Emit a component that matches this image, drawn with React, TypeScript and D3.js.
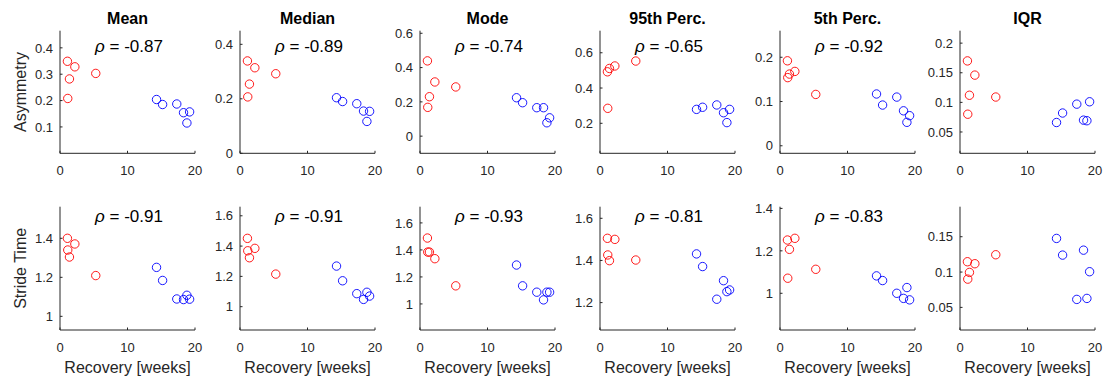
import React from 'react';
import * as d3 from 'd3';

// Recovery time (weeks) of each subject, per group
const redRecovery = [1.1, 1.15, 1.4, 2.2, 5.3];
const blueRecovery = [14.3, 15.2, 17.3, 18.3, 18.8, 19.2];

const statTitles = ['Mean', 'Median', 'Mode', '95th Perc.', '5th Perc.', 'IQR'];
const rowLabels = ['Asymmetry', 'Stride Time'];
const xTicks = [0, 10, 20];

// Asymmetry statistics (one row per statistic)
const asymmetryRed = [
  [0.349, 0.208, 0.282, 0.328, 0.303],
  [0.339, 0.207, 0.254, 0.314, 0.292],
  [0.439, 0.168, 0.230, 0.316, 0.287],
  [0.492, 0.285, 0.511, 0.525, 0.553],
  [0.192, 0.154, 0.162, 0.168, 0.116],
  [0.170, 0.080, 0.112, 0.146, 0.109],
];
const asymmetryBlue = [
  [0.204, 0.185, 0.187, 0.154, 0.115, 0.157],
  [0.204, 0.190, 0.182, 0.155, 0.117, 0.154],
  [0.224, 0.195, 0.166, 0.166, 0.078, 0.107],
  [0.279, 0.291, 0.304, 0.260, 0.204, 0.279],
  [0.117, 0.092, 0.110, 0.079, 0.053, 0.068],
  [0.066, 0.082, 0.097, 0.070, 0.069, 0.101],
];

// Stride time statistics (s)
const strideRed = [
  [1.400, 1.340, 1.304, 1.371, 1.209],
  [1.451, 1.369, 1.323, 1.385, 1.215],
  [1.488, 1.384, 1.384, 1.335, 1.134],
  [1.505, 1.426, 1.399, 1.500, 1.402],
  [1.251, 1.071, 1.207, 1.259, 1.113],
  [0.1146, 0.090, 0.0995, 0.1118, 0.1245],
];
const strideBlue = [
  [1.251, 1.184, 1.089, 1.086, 1.108, 1.088],
  [1.268, 1.171, 1.086, 1.048, 1.095, 1.070],
  [1.288, 1.134, 1.087, 1.030, 1.087, 1.087],
  [1.431, 1.371, 1.216, 1.304, 1.252, 1.260],
  [1.082, 1.060, 1.000, 0.976, 1.027, 0.969],
  [0.1476, 0.124, 0.0613, 0.131, 0.0627, 0.1005],
];

// Correlation coefficients (none shown for IQR)
const rhoAsymmetry = ['-0.87', '-0.89', '-0.74', '-0.65', '-0.92', null];
const rhoStride = ['-0.91', '-0.91', '-0.93', '-0.81', '-0.83', null];

// Axis limits and ticks
const asymmetryLimits = [
  [0.0, 0.465], [0, 0.45], [-0.1, 0.615], [0.03, 0.725], [-0.017, 0.26], [0.014, 0.221],
];
const strideLimits = [
  [0.93, 1.562], [0.846, 1.66], [0.807, 1.72], [1.07, 1.655], [0.827, 1.408], [0.018, 0.1925],
];
const asymmetryTicks = [
  [0.1, 0.2, 0.3, 0.4], [0, 0.2, 0.4], [0, 0.2, 0.4, 0.6], [0.2, 0.4, 0.6], [0, 0.1, 0.2], [0.05, 0.1, 0.15, 0.2],
];
const strideTicks = [
  [1, 1.2, 1.4], [1, 1.2, 1.4, 1.6], [1, 1.2, 1.4, 1.6], [1.2, 1.4, 1.6], [1, 1.2, 1.4], [0.05, 0.1, 0.15],
];

const W = 1109;
const H = 379;
const FONT = '"Liberation Sans", Arial, Helvetica, sans-serif';
const AX = '#262626';

const panelLeft = (i: number) => 60 + i * 180;
const panelWidth = 135;
const rows = [
  { top: 30.7, bottom: 153.3, rhoY: 51.5 },
  { top: 206.7, bottom: 330, rhoY: 222 },
];

function Panel({ col, row, red, blue, limits, ticks, rho }: any) {
  const x0 = panelLeft(col);
  const { top, bottom, rhoY } = rows[row];
  const x = d3.scaleLinear().domain([0, 20]).range([x0, x0 + panelWidth]);
  const y = d3.scaleLinear().domain(limits).range([bottom, top]);
  const cx = x0 + panelWidth / 2;
  const fmt = (v: number) => String(v);
  return (
    <g>
      {/* axes */}
      <line x1={x0} x2={x0} y1={top} y2={bottom} stroke={AX} strokeWidth={1} />
      <line x1={x0} x2={x0 + panelWidth} y1={bottom} y2={bottom} stroke={AX} strokeWidth={1} />
      {xTicks.map((t) => (
        <g key={'x' + t}>
          <line x1={x(t)} x2={x(t)} y1={bottom} y2={bottom - 2.5} stroke={AX} />
          <text x={x(t)} y={bottom + 21.7} textAnchor="middle" fontSize={13} fill={AX} fontFamily={FONT}>
            {fmt(t)}
          </text>
        </g>
      ))}
      {ticks.map((t: number) => (
        <g key={'y' + t}>
          <line x1={x0} x2={x0 + 2.5} y1={y(t)} y2={y(t)} stroke={AX} />
          <text x={x0 - 7} y={y(t)} dy="0.36em" textAnchor="end" fontSize={13} fill={AX} fontFamily={FONT}>
            {fmt(t)}
          </text>
        </g>
      ))}
      {/* points */}
      {red.map((v: number, i: number) => (
        <circle key={'r' + i} cx={x(redRecovery[i])} cy={y(v)} r={4.2} fill="none" stroke="#ff0000" strokeWidth={0.9} />
      ))}
      {blue.map((v: number, i: number) => (
        <circle key={'b' + i} cx={x(blueRecovery[i])} cy={y(v)} r={4.2} fill="none" stroke="#0000ff" strokeWidth={0.9} />
      ))}
      {rho && (
        <text x={cx + 1.5} y={rhoY} textAnchor="middle" fontSize={17} fill="#000" fontFamily={FONT}>
          <tspan fontStyle="italic">ρ</tspan>
          {' = ' + rho}
        </text>
      )}
      {row === 0 && (
        <text x={cx} y={24} textAnchor="middle" fontSize={16} fontWeight="bold" fill="#000" fontFamily={FONT}>
          {statTitles[col]}
        </text>
      )}
      {row === 1 && (
        <text x={cx} y={373} textAnchor="middle" fontSize={16} fill={AX} fontFamily={FONT}>
          Recovery [weeks]
        </text>
      )}
      {col === 0 && (
        <text
          transform={`translate(${x0 - 34.5},${(top + bottom) / 2}) rotate(-90)`}
          textAnchor="middle"
          fontSize={16}
          fill={AX}
          fontFamily={FONT}
        >
          {rowLabels[row]}
        </text>
      )}
    </g>
  );
}

export default function App() {
  return (
    <svg
      width={W}
      height={H}
      viewBox={`0 0 ${W} ${H}`}
      style={{ position: 'absolute', left: 0, top: 0, background: '#fff' }}
    >
      <rect width={W} height={H} fill="#fff" />
      {statTitles.map((_, c) => (
        <Panel
          key={'a' + c}
          col={c}
          row={0}
          red={asymmetryRed[c]}
          blue={asymmetryBlue[c]}
          limits={asymmetryLimits[c]}
          ticks={asymmetryTicks[c]}
          rho={rhoAsymmetry[c]}
        />
      ))}
      {statTitles.map((_, c) => (
        <Panel
          key={'s' + c}
          col={c}
          row={1}
          red={strideRed[c]}
          blue={strideBlue[c]}
          limits={strideLimits[c]}
          ticks={strideTicks[c]}
          rho={rhoStride[c]}
        />
      ))}
    </svg>
  );
}
